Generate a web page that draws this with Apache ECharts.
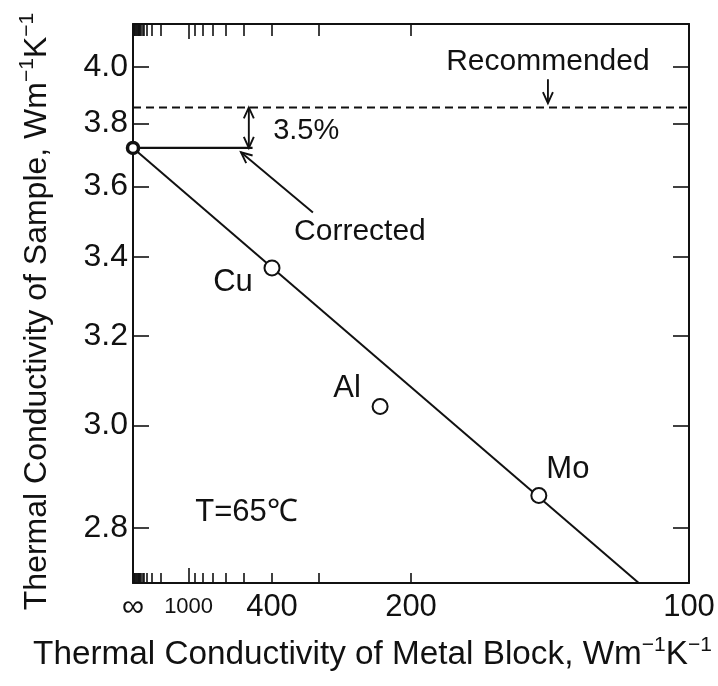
<!DOCTYPE html>
<html>
<head>
<meta charset="utf-8">
<script src="https://cdn.jsdelivr.net/npm/echarts@6.0.0/dist/echarts.min.js"></script>
<style>
  html, body { margin: 0; padding: 0; background: #fff; }
  #chart { width: 718px; height: 686px; }
</style>
</head>
<body>
<div id="chart"></div>
<script>
// 数据：金属块导热系数 k 与样品导热系数 λ（两个轴都是倒数刻度）
var metalNames = ['Cu', 'Al', 'Mo'];
var metalBlockK = [400, 225, 137];
var sampleLambda = [3.37, 3.04, 2.86];

var correctedLambda = 3.72;      // k -> ∞ 外推值
var recommendedLambda = 3.855;   // 推荐值（虚线）
var fitLineK = [Infinity, 110];
var fitLineLambda = [3.72, 2.703];
var correctedLineEndK = 465;

// 刻度
var xLabelK = [Infinity, 1000, 400, 200, 100];
var xLabelText = ['∞', '1000', '400', '200', '100'];
var xMinorTickK = [200, 300, 400, 500, 600, 700, 800, 900,
  2000, 3000, 4000, 5000, 6000, 7000, 8000, 9000, 10000,
  12000, 15000, 20000, 30000, 50000, 100000];
var xMajorTickK = [1000];
var yTickLambda = [4.0, 3.8, 3.6, 3.4, 3.2, 3.0, 2.8];

var FONT = '"Liberation Sans", Arial, Helvetica, sans-serif';

function inv(v) {
  return v === Infinity ? 0 : 1 / v;
}

var X_MIN = 0, X_MAX = 0.01;   // 1/k
var Y_MIN = 0.24, Y_MAX = 0.37; // 1/λ

var chart = echarts.init(document.getElementById('chart'));

var gridBox = { left: 133, right: 29, top: 24, bottom: 103, containLabel: false, outerBoundsMode: 'none' };

function xAxisBase(pos, gridIndex) {
  return {
    type: 'value', gridIndex: gridIndex, position: pos,
    min: X_MIN, max: X_MAX,
    splitLine: { show: false },
    axisLine: { show: gridIndex === 0, onZero: false, lineStyle: { color: '#111', width: 2 } },
    axisLabel: { show: false },
    axisTick: { show: false }
  };
}

function yAxisBase(pos) {
  return {
    type: 'value', gridIndex: 0, position: pos, inverse: true,
    min: Y_MIN, max: Y_MAX,
    splitLine: { show: false },
    axisLine: { show: true, onZero: false, lineStyle: { color: '#111', width: 2 } },
    axisTick: { show: true, inside: true, length: 16, customValues: yTickLambda.map(inv), lineStyle: { color: '#111', width: 1.6 } },
    axisLabel: { show: false }
  };
}

var option = {
  backgroundColor: '#fff',
  animation: false,
  grid: [Object.assign({}, gridBox), Object.assign({}, gridBox, { show: false })],
  xAxis: [
    Object.assign(xAxisBase('bottom', 0), {
      name: '{n|Thermal Conductivity of Metal Block, Wm}{sup|−1}{n|K}{sup|−1}',
      nameLocation: 'middle',
      nameGap: 52,
      nameTextStyle: {
        color: '#111', fontFamily: FONT, padding: [0, 77, 0, 0],
        rich: {
          n: { fontSize: 33.3, lineHeight: 40, fontFamily: FONT, color: '#111' },
          sup: { fontSize: 21, lineHeight: 21, verticalAlign: 'top', fontFamily: FONT, color: '#111' }
        }
      },
      axisTick: {
        show: true, inside: true, length: 10,
        customValues: xMinorTickK.map(inv),
        lineStyle: { color: '#111', width: 1.6 }
      },
      axisLabel: {
        show: true, margin: 8,
        customValues: xLabelK.map(inv),
        color: '#111', fontFamily: FONT, fontSize: 31, lineHeight: 32,
        formatter: function (v) {
          var i = xLabelK.map(inv).findIndex(function (t) { return Math.abs(t - v) < 1e-9; });
          var s = i >= 0 ? xLabelText[i] : '';
          return s === '1000' ? '{s|1000}' : s;
        },
        rich: { s: { fontSize: 22, lineHeight: 32, fontFamily: FONT, color: '#111' } }
      }
    }),
    Object.assign(xAxisBase('top', 0), {
      axisTick: {
        show: true, inside: true, length: 12,
        customValues: xMinorTickK.map(inv),
        lineStyle: { color: '#111', width: 1.6 }
      }
    }),
    Object.assign(xAxisBase('bottom', 1), {
      axisTick: { show: true, inside: true, length: 15, customValues: xMajorTickK.map(inv), lineStyle: { color: '#111', width: 1.6 } }
    }),
    Object.assign(xAxisBase('top', 1), {
      axisTick: { show: true, inside: true, length: 15, customValues: xMajorTickK.map(inv), lineStyle: { color: '#111', width: 1.6 } }
    })
  ],
  yAxis: [
    Object.assign(yAxisBase('left'), {
      axisLabel: {
        show: true, margin: 5, customValues: yTickLambda.map(inv),
        color: '#111', fontFamily: FONT, fontSize: 32,
        formatter: function (v) { return (1 / v).toFixed(1); }
      },
      name: '{n|Thermal Conductivity of Sample, Wm}{sup|−1}{n|K}{sup|−1}',
      nameLocation: 'middle',
      nameGap: 76,
      nameTextStyle: {
        color: '#111', fontFamily: FONT, padding: [0, 16, 0, 0],
        rich: {
          n: { fontSize: 32, lineHeight: 40, fontFamily: FONT, color: '#111' },
          sup: { fontSize: 21, lineHeight: 21, verticalAlign: 'top', fontFamily: FONT, color: '#111' }
        }
      }
    }),
    yAxisBase('right'),
    {
      type: 'value', gridIndex: 1, inverse: true, min: Y_MIN, max: Y_MAX, show: false
    }
  ],
  series: [
    {
      // 外推直线
      type: 'line', xAxisIndex: 0, yAxisIndex: 0, symbol: 'none', z: 2,
      data: fitLineK.map(function (k, i) { return [inv(k), inv(fitLineLambda[i])]; }),
      lineStyle: { color: '#111', width: 2 }
    },
    {
      // Corrected 水平线
      type: 'line', xAxisIndex: 0, yAxisIndex: 0, symbol: 'none', z: 2,
      data: [[inv(Infinity), inv(correctedLambda)], [inv(correctedLineEndK), inv(correctedLambda)]],
      lineStyle: { color: '#111', width: 2.2 }
    },
    {
      // Recommended 虚线
      type: 'line', xAxisIndex: 0, yAxisIndex: 0, symbol: 'none', z: 2,
      data: [[X_MIN, inv(recommendedLambda)], [X_MAX, inv(recommendedLambda)]],
      lineStyle: { color: '#111', width: 2, type: [8, 5] }
    },
    {
      type: 'scatter', xAxisIndex: 0, yAxisIndex: 0, z: 4,
      symbol: 'circle', symbolSize: 15,
      itemStyle: { color: '#fff', borderColor: '#111', borderWidth: 2, opacity: 1 },
      data: metalNames.map(function (name, i) {
        var off = { Cu: [-39, 14], Al: [-33, -18], Mo: [29, -26] }[name];
        return {
          value: [inv(metalBlockK[i]), inv(sampleLambda[i])],
          name: name,
          label: { offset: off }
        };
      }),
      label: {
        show: true, position: 'inside', formatter: '{b}',
        color: '#111', fontFamily: FONT, fontSize: 31
      }
    },
    {
      type: 'scatter', xAxisIndex: 0, yAxisIndex: 0, z: 5,
      symbol: 'circle', symbolSize: 11,
      itemStyle: { color: '#fff', borderColor: '#111', borderWidth: 3.5, opacity: 1 },
      data: [[inv(Infinity), inv(correctedLambda)]]
    }
  ]
};

chart.setOption(option);

// 注释：箭头和文字（用数据坐标定位）
function P(k, lam) {
  return chart.convertToPixel({ gridIndex: 0 }, [inv(k), inv(lam)]);
}
function chevron(tip, from, len, half) {
  var dx = tip[0] - from[0], dy = tip[1] - from[1];
  var d = Math.sqrt(dx * dx + dy * dy);
  var ux = dx / d, uy = dy / d, nx = -uy, ny = ux;
  return [
    [tip[0] - ux * len + nx * half, tip[1] - uy * len + ny * half],
    tip,
    [tip[0] - ux * len - nx * half, tip[1] - uy * len - ny * half]
  ];
}
var stroke = { stroke: '#111', lineWidth: 1.9, fill: null };
var g = [];
function arrow(from, tip, both) {
  g.push({ type: 'line', shape: { x1: from[0], y1: from[1], x2: tip[0], y2: tip[1] }, style: stroke, z: 10 });
  g.push({ type: 'polyline', shape: { points: chevron(tip, from, 11, 5) }, style: stroke, z: 10 });
  if (both) {
    g.push({ type: 'polyline', shape: { points: chevron(from, tip, 11, 5) }, style: stroke, z: 10 });
  }
}
function label(text, pos, size) {
  g.push({
    type: 'text', x: pos[0], y: pos[1], z: 10,
    style: { text: text, fill: '#111', font: size + 'px ' + FONT, align: 'center', verticalAlign: 'middle' }
  });
}

arrow(P(480, recommendedLambda), P(480, correctedLambda), true);
arrow(P(134, 3.955), P(134, 3.87), false);
arrow(P(309, 3.523), P(515, 3.706), false);

label('Recommended', P(134, 4.02), 30);
label('3.5%', P(321, 3.774), 29);
label('Corrected', P(245, 3.469), 30);
label('T=65℃', P(490, 2.829), 31);

chart.setOption({ graphic: g });
</script>
</body>
</html>
